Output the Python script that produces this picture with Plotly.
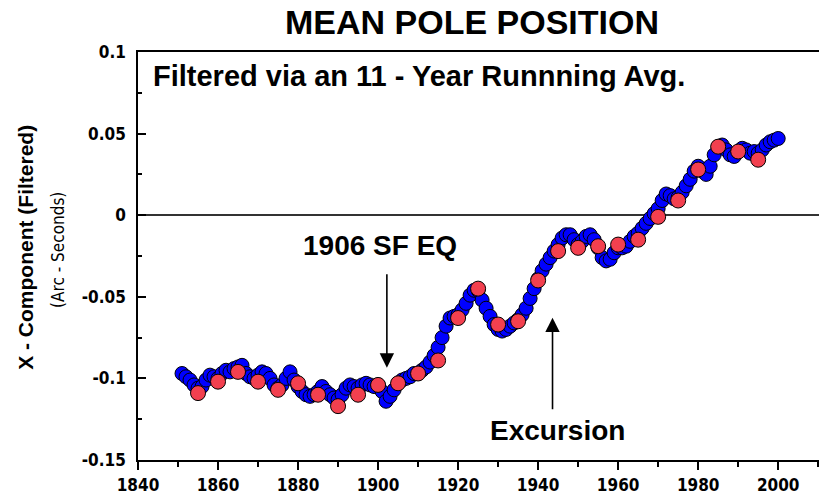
import plotly.graph_objects as go

# ---- data ----
blue_years = list(range(1851, 2001))
blue_vals = [
    -0.097, -0.099, -0.101, -0.104, -0.106, -0.105, -0.101, -0.098, -0.099, -0.100,   # 1851-1860
    -0.097, -0.095, -0.096, -0.094, -0.093, -0.092, -0.097, -0.099, -0.100, -0.098,   # 1861-1870
    -0.096, -0.097, -0.100, -0.104, -0.106, -0.104, -0.100, -0.096, -0.101, -0.105,   # 1871-1880
    -0.108, -0.110, -0.111, -0.110, -0.108, -0.105, -0.108, -0.110, -0.112, -0.113,   # 1881-1890
    -0.110, -0.106, -0.104, -0.105, -0.106, -0.104, -0.103, -0.104, -0.105, -0.104,   # 1891-1900
    -0.108, -0.114, -0.111, -0.107, -0.103, -0.101, -0.100, -0.099, -0.097, -0.097,   # 1901-1910
    -0.095, -0.093, -0.090, -0.086, -0.081, -0.075, -0.068, -0.063, -0.062, -0.061,   # 1911-1920
    -0.058, -0.054, -0.049, -0.046, -0.046, -0.052, -0.057, -0.062, -0.067, -0.070,   # 1921-1930
    -0.071, -0.070, -0.068, -0.066, -0.064, -0.061, -0.057, -0.051, -0.045, -0.039,   # 1931-1940
    -0.034, -0.030, -0.026, -0.022, -0.018, -0.014, -0.012, -0.012, -0.015, -0.018,   # 1941-1950
    -0.016, -0.013, -0.012, -0.015, -0.020, -0.026, -0.028, -0.027, -0.023, -0.020,   # 1951-1960
    -0.020, -0.019, -0.016, -0.013, -0.011, -0.008, -0.005, -0.002, 0.001, 0.004,     # 1961-1970
    0.009, 0.013, 0.012, 0.010, 0.011, 0.014, 0.018, 0.022, 0.027, 0.030,             # 1971-1980
    0.027, 0.025, 0.030, 0.037, 0.042, 0.043, 0.040, 0.037, 0.036, 0.039,             # 1981-1990
    0.041, 0.040, 0.038, 0.039, 0.038, 0.040, 0.043, 0.045, 0.046, 0.047,             # 1991-2000
]

red_years = list(range(1855, 2000, 5))
red_vals = [
    -0.109, -0.102, -0.096, -0.102, -0.107, -0.103, -0.110, -0.117, -0.110, -0.104,
    -0.103, -0.097, -0.089, -0.063, -0.045, -0.067, -0.065, -0.040, -0.022, -0.020,
    -0.019, -0.018, -0.015, -0.001, 0.009, 0.028, 0.042, 0.039, 0.034,
]

x_ticks = [1840, 1860, 1880, 1900, 1920, 1940, 1960, 1980, 2000]
y_ticks = [-0.15, -0.1, -0.05, 0, 0.05, 0.1]
y_tick_labels = ["-0.15", "-0.1", "-0.05", "0", "0.05", "0.1"]

title_text = "MEAN POLE POSITION"
subtitle_text = "Filtered via an 11 - Year Runnning Avg."
ytitle_main = "X - Component (Filtered)"
ytitle_sub = "(Arc - Seconds)"

BOLD = "Liberation Sans, Arial, sans-serif"
NARROW = "DejaVu Sans Condensed, Liberation Sans Narrow, sans-serif"

fig = go.Figure()
fig.add_trace(go.Scatter(
    x=blue_years, y=blue_vals, mode="markers",
    marker=dict(size=14, color="#0000FF", line=dict(color="black", width=1)),
    hoverinfo="skip", showlegend=False,
))
fig.add_trace(go.Scatter(
    x=red_years, y=red_vals, mode="markers",
    marker=dict(size=15, color="#F2404F", line=dict(color="black", width=1)),
    hoverinfo="skip", showlegend=False,
))

fig.update_layout(
    width=819, height=497,
    margin=dict(l=138, r=0, t=52, b=37),
    paper_bgcolor="white", plot_bgcolor="white",
    showlegend=False,
)

fig.update_xaxes(
    range=[1840, 2010.2],
    tickvals=x_ticks, ticktext=["<b>%d</b>" % v for v in x_ticks],
    ticks="outside", ticklen=8, tickwidth=1.5, tickcolor="black",
    minor=dict(dtick=10, tick0=1840, ticks="outside", ticklen=5, tickwidth=1.5, tickcolor="black"),
    showline=True, linecolor="black", linewidth=1.5, mirror=True,
    showgrid=False, zeroline=False,
    tickfont=dict(family=NARROW, size=17, color="black"),
    ticklabelstandoff=1,
)
fig.update_yaxes(
    range=[-0.15, 0.1],
    tickvals=y_ticks, ticktext=["<b>%s</b>" % t for t in y_tick_labels],
    ticks="inside", ticklen=8, tickwidth=1.5, tickcolor="black",
    minor=dict(dtick=0.025, tick0=-0.15, ticks="inside", ticklen=4, tickwidth=1.5, tickcolor="black"),
    showline=True, linecolor="black", linewidth=1.5, mirror=False,
    showgrid=False,
    zeroline=True, zerolinecolor="#333333", zerolinewidth=1.5,
    tickfont=dict(family=NARROW, size=17, color="black"),
    ticklabelstandoff=7,
)

annotations = [
    dict(text=title_text, xref="paper", yref="paper", x=0.49, y=1.0, yshift=30,
         xanchor="center", yanchor="middle", showarrow=False,
         font=dict(family=BOLD, size=34, color="black", weight="bold")),
    dict(text=subtitle_text, xref="x", yref="y", x=1843.3, y=0.0855,
         xanchor="left", yanchor="middle", showarrow=False,
         font=dict(family=BOLD, size=29, color="black", weight="bold")),
    dict(text=ytitle_main, xref="paper", yref="paper", x=0, xshift=-112, y=0.52,
         xanchor="center", yanchor="middle", textangle=-90, showarrow=False,
         font=dict(family=BOLD, size=21, color="black", weight="bold")),
    dict(text=ytitle_sub, xref="paper", yref="paper", x=0, xshift=-80, y=0.515,
         xanchor="center", yanchor="middle", textangle=-90, showarrow=False,
         font=dict(family=NARROW, size=17, color="black")),
    dict(text="1906 SF EQ", xref="x", yref="y", x=1900.6, y=-0.0187,
         xanchor="center", yanchor="middle", showarrow=False,
         font=dict(family=BOLD, size=28, color="black", weight="bold")),
    dict(text="Excursion", xref="x", yref="y", x=1944.8, y=-0.132,
         xanchor="center", yanchor="middle", showarrow=False,
         font=dict(family=BOLD, size=28, color="black", weight="bold")),
    # arrows
    dict(text="", xref="x", yref="y", x=1902.2, y=-0.0934,
         axref="x", ayref="y", ax=1902.2, ay=-0.0352,
         showarrow=True, arrowhead=2, arrowsize=1.8, arrowwidth=1.6, arrowcolor="black"),
    dict(text="", xref="x", yref="y", x=1943.6, y=-0.0628,
         axref="x", ayref="y", ax=1943.6, ay=-0.1198,
         showarrow=True, arrowhead=2, arrowsize=1.8, arrowwidth=1.6, arrowcolor="black"),
]
fig.update_layout(annotations=annotations)

fig.write_html("out.html")
